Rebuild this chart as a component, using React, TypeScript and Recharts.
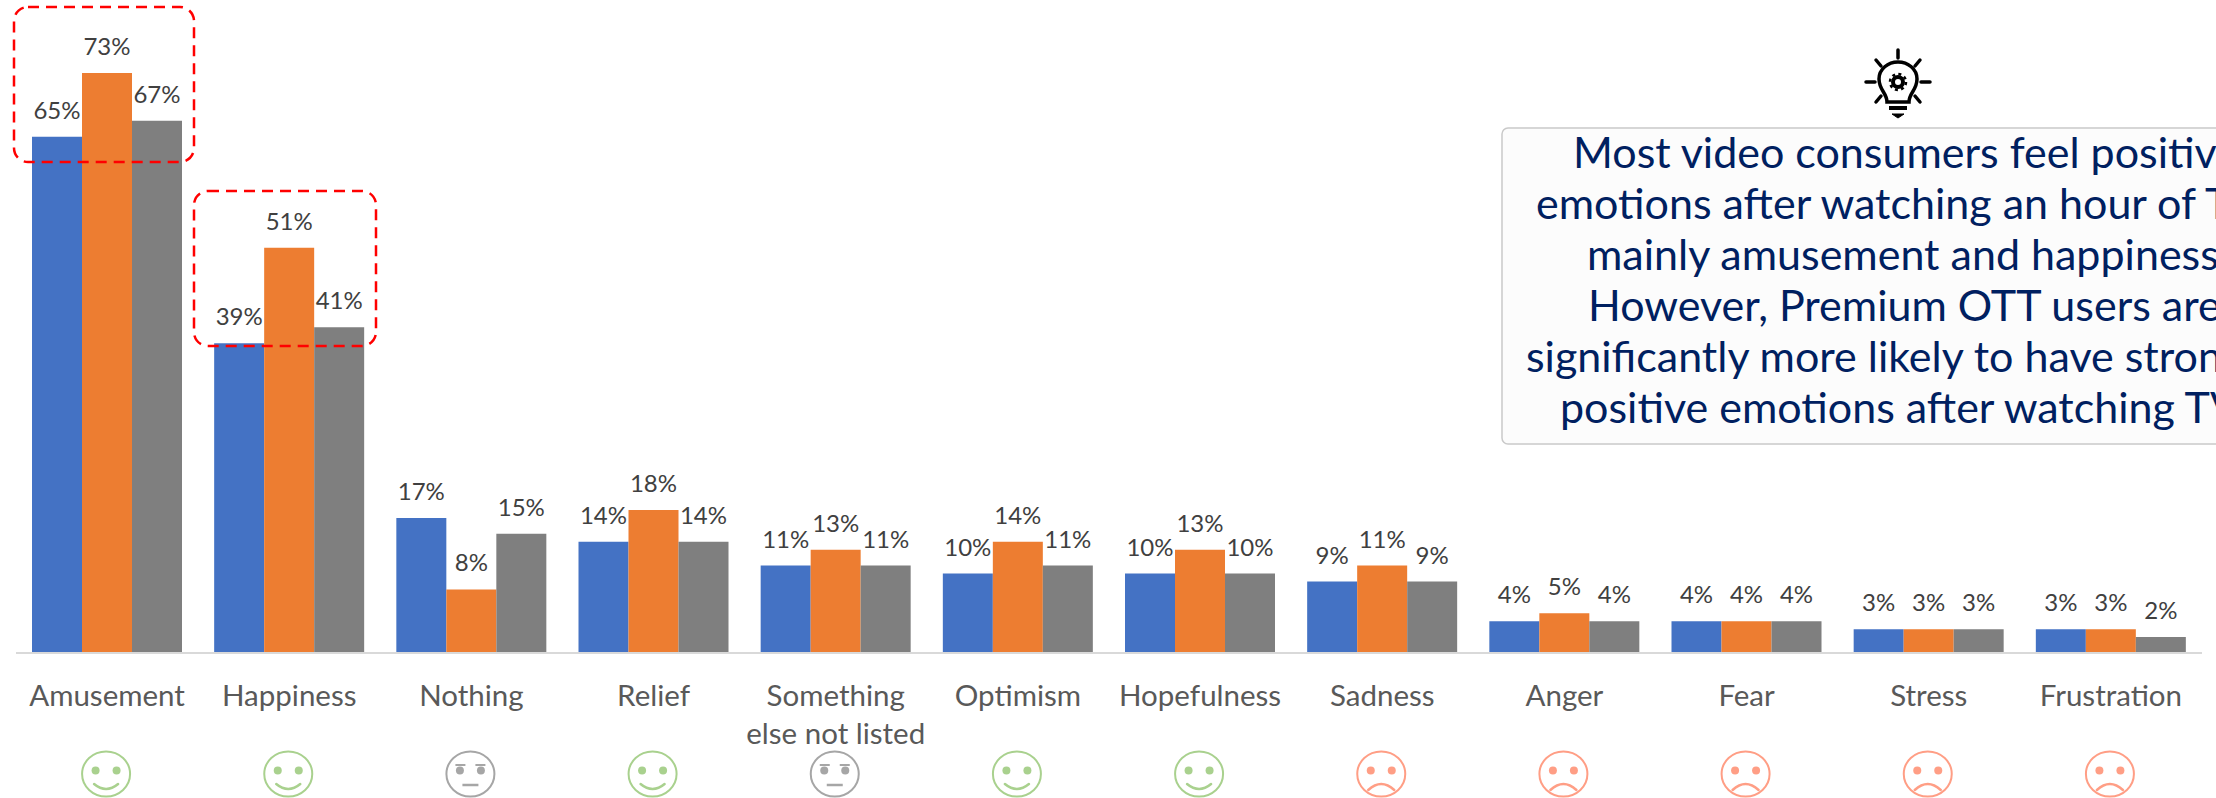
import { Bar, BarChart, LabelList, XAxis, YAxis } from 'recharts';

const categories = [
  'Amusement',
  'Happiness',
  'Nothing',
  'Relief',
  'Something\nelse not listed',
  'Optimism',
  'Hopefulness',
  'Sadness',
  'Anger',
  'Fear',
  'Stress',
  'Frustration',
];
const moods = ['happy', 'happy', 'neutral', 'happy', 'neutral', 'happy', 'happy', 'sad', 'sad', 'sad', 'sad', 'sad'];
const blueValues = [65, 39, 17, 14, 11, 10, 10, 9, 4, 4, 3, 3];
const orangeValues = [73, 51, 8, 18, 13, 14, 13, 11, 5, 4, 3, 3];
const grayValues = [67, 41, 15, 14, 11, 11, 10, 9, 4, 4, 3, 2];

const calloutLines = [
  { text: 'Most video consumers feel positive', x: 1573 },
  { text: 'emotions after watching an hour of TV,', x: 1536 },
  { text: 'mainly amusement and happiness.', x: 1587 },
  { text: 'However, Premium OTT users are', x: 1588 },
  { text: 'significantly more likely to have strong', x: 1526 },
  { text: 'positive emotions after watching TV.', x: 1560 },
];

const chartData = categories.map((name, i) => ({
  name,
  blue: blueValues[i],
  orange: orangeValues[i],
  gray: grayValues[i],
}));

const series = [
  { key: 'blue', color: '#4472C4' },
  { key: 'orange', color: '#ED7D31' },
  { key: 'gray', color: '#7F7F7F' },
];

const moodColors: Record<string, string> = {
  happy: '#A9D18E',
  neutral: '#A6A6A6',
  sad: '#FF9E85',
};

const FONT = 'Lato, sans-serif';

const Face = ({ cx, cy, mood }: { cx: number; cy: number; mood: string }) => {
  const color = moodColors[mood];
  return (
    <g>
      <ellipse cx={cx} cy={cy} rx={24} ry={22.5} fill="none" stroke={color} strokeWidth={2} />
      <circle cx={cx - 10.5} cy={cy - 3.5} r={4} fill={color} />
      <circle cx={cx + 10.5} cy={cy - 3.5} r={4} fill={color} />
      {mood === 'happy' && (
        <path d={`M${cx - 12} ${cy + 10} Q${cx} ${cy + 20} ${cx + 12} ${cy + 10}`} fill="none" stroke={color} strokeWidth={2.5} strokeLinecap="round" />
      )}
      {mood === 'sad' && (
        <path d={`M${cx - 13} ${cy + 16} Q${cx} ${cy + 4} ${cx + 13} ${cy + 16}`} fill="none" stroke={color} strokeWidth={2.5} strokeLinecap="round" />
      )}
      {mood === 'neutral' && (
        <>
          <path d={`M${cx - 15} ${cy - 9}h10M${cx + 5} ${cy - 9}h10`} stroke={color} strokeWidth={2} />
          <path d={`M${cx - 8} ${cy + 11}h16`} stroke={color} strokeWidth={2.5} />
        </>
      )}
    </g>
  );
};

// axis tick: one or two lines of text, with the mood face underneath
const CategoryTick = ({ x, y, payload, index }: any) => {
  const lines = String(payload.value).split('\n');
  return (
    <g>
      <text x={x} y={y + 53} textAnchor="middle" fill="#595959" fontSize={29.5} fontFamily={FONT}>
        {lines.map((line, i) => (
          <tspan key={i} x={x} dy={i === 0 ? 0 : 38}>
            {line}
          </tspan>
        ))}
      </text>
      <Face cx={x - 1} cy={y + 121} mood={moods[index]} />
    </g>
  );
};

const Bulb = ({ cx, cy }: { cx: number; cy: number }) => (
  <g transform={`translate(${cx} ${cy})`} stroke="#000" fill="none">
    <path d="M0 -24v-8M-22 -22l5 6M22 -22l-5 6M-32 0h9M32 0h-9M-22 20l5 -6M22 20l-5 -6" strokeWidth={3.5} strokeLinecap="round" />
    <path d="M-11 20C-11 11 -19 8 -19 -3C-19 -13 -10 -20 0 -20C10 -20 19 -13 19 -3C19 8 11 11 11 20Z" strokeWidth={3.5} />
    <circle cx={0} cy={0} r={5} strokeWidth={4} />
    <circle cx={0} cy={0} r={8} strokeWidth={2.5} strokeDasharray="3 3.3" />
    <path d="M-9 26h18" strokeWidth={4} />
    <path d="M-6 32h12l-6 4Z" fill="#000" strokeWidth={1} />
  </g>
);

const Annotations = () => (
  <svg width={2216} height={798} style={{ position: 'absolute', left: 0, top: 0 }}>
    <rect x={14} y={7} width={180} height={155} rx={14} fill="none" stroke="#FF0000" strokeWidth={2.5} strokeDasharray="11 7" />
    <rect x={194} y={191} width={182} height={155} rx={14} fill="none" stroke="#FF0000" strokeWidth={2.5} strokeDasharray="11 7" />
    <Bulb cx={1898} cy={82} />
    <rect x={1502} y={128} width={760} height={316} rx={6} fill="#FCFCFC" stroke="#C9C9C9" strokeWidth={1.5} />
    <text fill="#002060" fontSize={43} fontFamily={FONT}>
      {calloutLines.map((line, i) => (
        <tspan key={i} x={line.x} y={168 + i * 51}>
          {line.text}
        </tspan>
      ))}
    </text>
  </svg>
);

export default function App() {
  return (
    <div style={{ position: 'absolute', left: 0, top: 0, width: 2216, height: 798, overflow: 'hidden', background: '#fff' }}>
      <BarChart
        width={2216}
        height={798}
        data={chartData}
        margin={{ top: 0, right: 14, bottom: 0, left: 16 }}
        barGap={0}
        barCategoryGap={16}
        style={{ fontFamily: FONT }}
      >
        <YAxis hide domain={[0, 82.2]} />
        <XAxis
          dataKey="name"
          interval={0}
          height={145}
          tickLine={false}
          tickSize={0}
          tickMargin={0}
          axisLine={{ stroke: '#D9D9D9', strokeWidth: 2 }}
          tick={CategoryTick}
        />
        {series.map((s) => (
          <Bar key={s.key} dataKey={s.key} fill={s.color} isAnimationActive={false}>
            <LabelList
              dataKey={s.key}
              position="top"
              offset={18}
              fill="#404040"
              fontSize={24}
              formatter={(v: any) => `${v}%`}
            />
          </Bar>
        ))}
      </BarChart>
      <Annotations />
    </div>
  );
}
